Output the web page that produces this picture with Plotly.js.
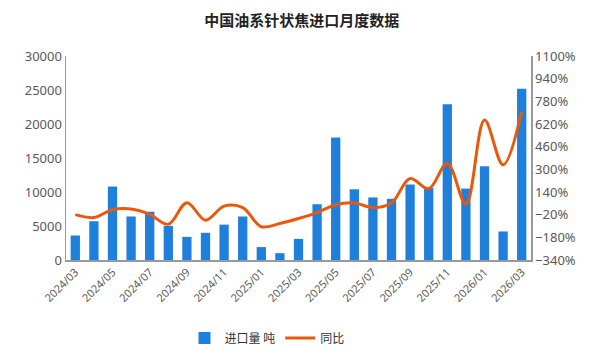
<!DOCTYPE html>
<html>
<head>
<meta charset="utf-8">
<script src="https://cdn.plot.ly/plotly-3.0.1.min.js"></script>
<style>html,body{margin:0;padding:0;background:#fff}#chart{width:600px;height:352px}</style>
</head>
<body>
<div id="chart"></div>
<script>
const months = ["2024/03","2024/04","2024/05","2024/06","2024/07","2024/08","2024/09","2024/10","2024/11","2024/12",
  "2025/01","2025/02","2025/03","2025/04","2025/05","2025/06","2025/07","2025/08","2025/09","2025/10","2025/11","2025/12",
  "2026/01","2026/02","2026/03"];
const importVolume = [3600,5700,10800,6400,7100,5000,3400,4000,5200,6400,
  1900,1000,3100,8200,18000,10400,9200,9000,11100,10600,22900,10500,
  13800,4200,25200];
const yoyPct = [-20,-40,15,20,-18,-88,65,-59,40,30,
  -105,-82,-47,-5,50,63,30,63,235,163,343,53,
  648,332,709];
const tickLabels = months.filter((m, i) => i % 2 === 0);

const traces = [
  {type:'bar', name:'进口量 吨', x:months, y:importVolume, marker:{color:'#1f80dc'}, yaxis:'y'},
  {type:'scatter', mode:'lines', name:'同比', x:months, y:yoyPct, yaxis:'y2',
   line:{color:'#e8590c', width:3, shape:'spline', smoothing:1}}
];
const axisFont = {family:'Noto Sans, sans-serif', size:13, color:'#595959'};
const layout = {
  width:600, height:352,
  margin:{l:66, r:69, t:56, b:92, autoexpand:false},
  paper_bgcolor:'#fff', plot_bgcolor:'#fff',
  title:{text:'<b>中国油系针状焦进口月度数据</b>', x:0.503, xanchor:'center', y:0.94, yanchor:'middle',
         font:{family:'Noto Sans CJK SC, sans-serif', size:15, color:'#222'}},
  bargap:0.5,
  showlegend:true,
  legend:{orientation:'h', xref:'container', x:0.445, xanchor:'center', yref:'container', y:0.04, yanchor:'middle',
          font:{family:'Noto Sans CJK SC, sans-serif', size:12, color:'#333'}},
  xaxis:{type:'category', tickvals:tickLabels, ticktext:tickLabels, tickangle:-45, automargin:false,
         tickfont:{family:'Noto Sans, sans-serif', size:11, color:'#595959'},
         showline:true, linecolor:'#999', linewidth:1.5, showgrid:false, ticks:'', zeroline:false},
  yaxis:{range:[0,30000], dtick:5000, tickformat:'d', tickfont:axisFont, automargin:false,
         showline:true, linecolor:'#999', linewidth:1.5, showgrid:false, zeroline:false, ticks:''},
  yaxis2:{range:[-340,1100], dtick:160, tick0:-340, ticksuffix:'%', overlaying:'y', side:'right', automargin:false,
          tickfont:axisFont, showline:true, linecolor:'#999', linewidth:1.5, showgrid:false, zeroline:false, ticks:''}
};
Plotly.newPlot('chart', traces, layout, {displayModeBar:false, staticPlot:true});
</script>
</body>
</html>
